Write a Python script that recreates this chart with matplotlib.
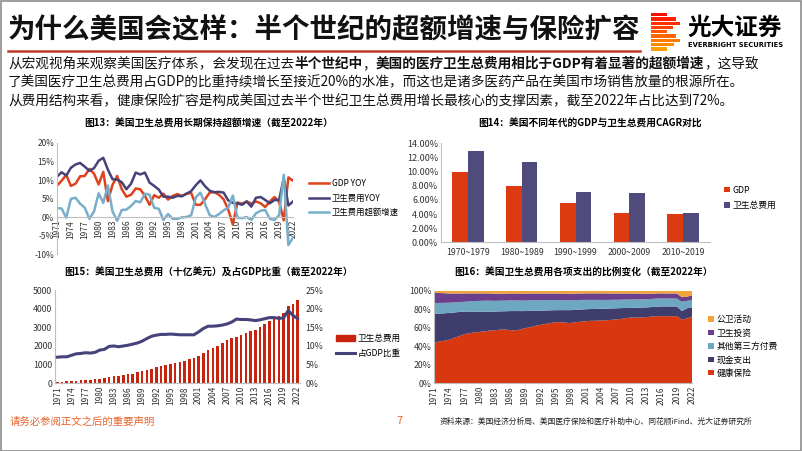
import numpy as np
import matplotlib.pyplot as plt
from matplotlib.lines import Line2D
from matplotlib.patches import Patch, Rectangle
from matplotlib.ticker import FuncFormatter

plt.rcParams['font.family'] = ['Noto Sans CJK SC', 'DejaVu Sans']
plt.rcParams['axes.unicode_minus'] = False

W, H = 802, 451

# ---- data ----
years = list(range(1971, 2023))

# 图13: YoY growth, %
gdp_yoy = [8.5, 9.8, 11.4, 8.4, 9.0, 11.0, 11.1, 13.0, 11.7, 8.8, 12.2, 4.3, 8.7, 11.1, 7.5, 5.5,
           6.0, 7.7, 7.5, 5.7, 3.3, 5.9, 5.2, 6.3, 4.7, 5.7, 6.2, 5.7, 6.3, 6.5, 3.3, 3.3, 4.8,
           6.6, 6.7, 6.0, 4.8, 2.0, -2.0, 3.9, 3.6, 4.2, 3.6, 4.2, 3.7, 2.7, 4.2, 5.4, 4.1, -0.9,
           10.7, 9.8]
he_yoy = [10.9, 12.1, 11.2, 13.3, 14.2, 14.6, 13.6, 12.5, 13.2, 15.2, 16.0, 12.8, 10.2, 10.1,
          9.4, 7.5, 9.0, 12.0, 11.5, 12.0, 9.3, 8.4, 7.4, 5.5, 5.5, 5.2, 5.7, 5.6, 6.3, 7.0, 8.6,
          9.9, 8.3, 7.1, 6.7, 6.8, 6.6, 4.5, 3.8, 3.7, 3.3, 4.2, 2.8, 5.2, 5.4, 4.6, 3.7, 4.6,
          4.6, 10.5, 3.1, 4.2]
excess_yoy = [2.4, 2.3, -0.2, 4.9, 5.2, 3.6, 2.5, -0.5, 1.5, 6.4, 3.8, 8.5, 1.5, -1.0, 1.9, 2.0,
              3.0, 4.3, 4.0, 6.3, 6.0, 2.5, 2.2, -0.8, 0.8, -0.5, -0.5, -0.1, 0.0, 0.5, 5.3, 6.6,
              3.5, 0.5, 0.0, 0.8, 1.8, 2.5, 5.8, -0.2, -0.3, 0.0, -0.8, 1.0, 1.7, 1.9, -0.5, -0.8,
              0.5, 11.4, -7.6, -5.6]

# 图14: CAGR by decade, %
decades = ['1970~1979', '1980~1989', '1990~1999', '2000~2009', '2010~2019']
cagr_gdp = [9.9, 7.9, 5.5, 4.15, 4.05]
cagr_he = [12.9, 11.3, 7.1, 6.95, 4.2]

# 图15: national health expenditure (bn USD) and share of GDP (%)
he_total = [83, 93, 103, 117, 133, 153, 174, 196, 222, 255, 296, 335, 369, 407, 445, 477, 519,
            581, 648, 721, 788, 854, 917, 967, 1022, 1074, 1136, 1199, 1282, 1369, 1487, 1629,
            1768, 1895, 2024, 2156, 2295, 2403, 2496, 2590, 2676, 2790, 2873, 3024, 3193, 3342,
            3450, 3617, 3790, 4144, 4255, 4464]
he_share = [7.0, 7.1, 7.1, 7.5, 7.9, 8.0, 8.2, 8.1, 8.3, 8.9, 9.1, 9.9, 10.0, 9.8, 10.0, 10.2,
            10.5, 10.8, 11.3, 12.0, 12.6, 12.9, 13.1, 13.1, 13.2, 13.1, 13.0, 13.0, 13.0, 13.0,
            13.8, 14.7, 15.3, 15.3, 15.4, 15.6, 15.9, 16.4, 17.2, 17.1, 17.1, 17.0, 16.8, 17.0,
            17.3, 17.6, 17.6, 17.4, 17.5, 19.5, 18.2, 17.3]

# 图16: spending structure, %
share_insurance = [44, 45, 46, 47, 49, 51, 53, 54, 55, 55.5, 56, 57, 57, 58, 58, 57.5, 57, 58,
                   59.5, 60.5, 62, 63, 64, 65, 66, 66, 65.5, 65, 66, 66.5, 67, 67.5, 67.5, 68,
                   68, 68.5, 69, 69.5, 70.5, 71, 71, 71, 71.5, 72, 72.5, 72.5, 72.5, 72.5, 72.5,
                   69, 70, 72]
share_oop = [31, 30.3, 29.6, 29, 27.5, 26, 24.5, 23.5, 22.3, 21.5, 21.2, 20.4, 20.5, 19.7, 19.8,
             20.5, 21, 20, 18.5, 17.7, 16.3, 15.5, 14.6, 13.8, 13, 13, 13.5, 14, 13.3, 13.1, 13,
             12.7, 12.8, 12.5, 12.6, 12.3, 12, 11.7, 10.8, 10.5, 10.6, 10.8, 10.5, 10.3, 10.2,
             10.5, 10.5, 10.5, 10.5, 9, 11, 10]
share_other = [11.5, 11.5, 11.3, 11, 10.8, 10.7, 10.5, 11, 11.5, 12, 12, 11.8, 11.5, 11.5, 11.5,
               11.5, 11.5, 11.4, 11.3, 11.3, 11.3, 11.2, 11.2, 11.1, 11, 11, 10.8, 10.7, 10.6,
               10.4, 10.1, 9.9, 9.8, 9.6, 9.4, 9.3, 9.2, 9.1, 9.1, 9, 9, 8.9, 8.8, 8.8, 8.8, 8.6,
               8.5, 8.5, 8.5, 10, 8, 8]
share_invest = [11, 10.7, 10.4, 10, 9.7, 9.3, 9, 8.6, 8.3, 8, 7.9, 7.8, 7.7, 7.6, 7.5, 7.5, 7.5,
                7.5, 7.5, 7.5, 7.4, 7.3, 7.2, 7.1, 7, 7, 7, 7, 7, 7, 7, 7, 7, 7, 7, 6.9, 6.8, 6.7,
                6.6, 6.5, 6.3, 6.1, 5.9, 5.7, 5.5, 5.5, 5.5, 5.5, 5.5, 5, 4.5, 5]
share_public = [2.5, 2.5, 2.7, 3, 3, 3, 3, 2.9, 2.9, 3, 2.9, 3, 3.3, 3.2, 3.2, 3, 3, 3.1, 3.2, 3,
                3, 3, 3, 3, 3, 3, 3.2, 3.3, 3.1, 3, 2.9, 2.9, 2.9, 2.9, 3, 3, 3, 3, 3, 3, 3.1,
                3.2, 3.3, 3.2, 3, 2.9, 3, 3, 3, 7, 6.5, 5]

RED = '#E0421C'
NAVY = '#46427A'
LBLUE = '#78AEC8'
GRAY = '#BFBFBF'
TXT = '#333333'

fig = plt.figure(figsize=(W / 100, H / 100), dpi=100)
fig.patch.set_facecolor('white')


def add_ax(l, t, r, b):
    return fig.add_axes([l / W, 1 - b / H, (r - l) / W, (b - t) / H])


def clean(ax):
    for s in ['top', 'right']:
        ax.spines[s].set_visible(False)
    for s in ['left', 'bottom']:
        ax.spines[s].set_color(GRAY)
        ax.spines[s].set_linewidth(0.8)
    ax.tick_params(length=0, labelsize=6, colors=TXT, pad=2)
    ax.set_facecolor('none')


pct = FuncFormatter(lambda v, p: '%d%%' % v)

# ---- header ----
fig.text(8 / W, 1 - 30 / H, '为什么美国会这样：半个世纪的超额增速与保险扩容',
         fontsize=19.8, fontweight='bold', va='center', color='#111111')
fig.add_artist(Line2D([8 / W, 640 / W], [1 - 51 / H, 1 - 51 / H], color='#C0392B', lw=1.8))
# logo stripes
for i, (x0, x1) in enumerate([(651, 667), (651, 676), (651, 680), (651, 673), (651, 667),
                              (651, 676), (651, 680), (651, 674), (651, 667)]):
    y = 13 + i * 4.3
    c = plt.cm.autumn(0.05 + i * 0.07)
    fig.add_artist(Rectangle((x0 / W, 1 - (y + 3.2) / H), (x1 - x0) / W, 3.2 / H,
                             color=c, lw=0))
fig.text(687 / W, 1 - 28 / H, '光大证券', fontsize=17, fontweight='bold', va='center')
fig.text(688 / W, 1 - 45 / H, 'EVERBRIGHT SECURITIES', fontsize=4.9, va='center',
         fontweight='bold', family=['DejaVu Sans'])

renderer = fig.canvas.get_renderer()


def seg_text(x, y, parts, size=9.85):
    x = x / W
    for s, bold in parts:
        t = fig.text(x, 1 - y / H, s, fontsize=size, va='center', color='#111111',
                     fontweight='bold' if bold else 'normal')
        x += t.get_window_extent(renderer=renderer).width / W


seg_text(8, 64, [('从宏观视角来观察美国医疗体系，会发现在过去', False), ('半个世纪中', True),
                 ('，', False), ('美国的医疗卫生总费用相比于GDP有着显著的超额增速', True),
                 ('，这导致', False)])
seg_text(8, 82, [('了美国医疗卫生总费用占GDP的比重持续增长至接近20%的水准，而这也是诸多医药产品在美国市场销售放量的根源所在。', False)])
seg_text(8, 101, [('从费用结构来看，健康保险扩容是构成美国过去半个世纪卫生总费用增长最核心的支撑因素，截至2022年占比达到72%。', False)])

# ---- 图13 ----
fig.text(209 / W, 1 - 124 / H, '图13：美国卫生总费用长期保持超额增速（截至2022年）',
         fontsize=7, fontweight='bold', ha='center', va='center')
ax1 = add_ax(57, 143, 293, 254)
ax1.plot(years, gdp_yoy, color=RED, lw=1.8, label='GDP YOY')
ax1.plot(years, he_yoy, color=NAVY, lw=1.8, label='卫生费用YOY')
ax1.plot(years, excess_yoy, color=LBLUE, lw=1.8, label='卫生费用超额增速')
ax1.set_xlim(1971, 2022)
ax1.set_ylim(-10, 20)
ax1.set_yticks(range(-10, 21, 5))
ax1.yaxis.set_major_formatter(pct)
ax1.set_xticks(years[::3])
clean(ax1)
ax1.spines['bottom'].set_position(('data', 0))
ax1.tick_params(axis='x', rotation=90)
ax1.legend(loc='center left', bbox_to_anchor=(305 / W, 1 - 198 / H),
           bbox_transform=fig.transFigure, frameon=False, fontsize=6, handlelength=2.4,
           handletextpad=0.3, labelspacing=0.65, borderpad=0)

# ---- 图14 ----
fig.text(590 / W, 1 - 124 / H, '图14：美国不同年代的GDP与卫生总费用CAGR对比',
         fontsize=7, fontweight='bold', ha='center', va='center')
ax2 = add_ax(441, 143.3, 710, 242.3)
x = np.arange(len(decades))
w = 0.29
ax2.bar(x - w / 2, cagr_gdp, w, color='#DC3B12', label='GDP')
ax2.bar(x + w / 2, cagr_he, w, color='#4F4B7D', label='卫生总费用')
ax2.set_xlim(-0.5, len(decades) - 0.5)
ax2.set_ylim(0, 14)
ax2.set_yticks(range(0, 15, 2))
ax2.yaxis.set_major_formatter(FuncFormatter(lambda v, p: '%.2f%%' % v))
ax2.set_xticks(x)
ax2.set_xticklabels(decades)
clean(ax2)
ax2.tick_params(axis='y', labelsize=6.5)
ax2.tick_params(axis='x', pad=4, labelsize=6.3)
ax2.legend(loc='center left', bbox_to_anchor=(720 / W, 1 - 198 / H),
           bbox_transform=fig.transFigure, frameon=False, fontsize=6.3, handlelength=0.6,
           handleheight=0.6, handletextpad=0.3, labelspacing=0.75, borderpad=0)

# ---- 图15 ----
fig.text(209 / W, 1 - 273 / H, '图15：美国卫生总费用（十亿美元）及占GDP比重（截至2022年）',
         fontsize=7, fontweight='bold', ha='center', va='center')
ax3 = add_ax(55, 290, 300, 383.3)
ax3.bar(years, he_total, 0.55, color='#C8230F')
ax3.set_xlim(1970.5, 2022.5)
ax3.set_ylim(0, 5000)
ax3.set_yticks(range(0, 5001, 1000))
ax3.set_xticks(years[::3])
clean(ax3)
ax3.tick_params(axis='x', rotation=90)
ax3.tick_params(axis='y', labelsize=6.3)
ax3b = ax3.twinx()
ax3b.plot(years, he_share, color=NAVY, lw=2.2)
ax3b.set_ylim(0, 25)
ax3b.set_yticks(range(0, 26, 5))
ax3b.yaxis.set_major_formatter(pct)
for s in ['top', 'right', 'left', 'bottom']:
    ax3b.spines[s].set_visible(False)
ax3b.tick_params(length=0, labelsize=6.3, colors=TXT, pad=4)
ax3b.legend([Patch(color='#C8230F'), Line2D([], [], color=NAVY, lw=2.2)],
            ['卫生总费用', '占GDP比重'], loc='center left',
            bbox_to_anchor=(332 / W, 1 - 346 / H), bbox_transform=fig.transFigure,
            frameon=False, fontsize=6.2, handlelength=2.2, handleheight=0.6,
            handletextpad=0.3, labelspacing=0.7, borderpad=0)

# ---- 图16 ----
fig.text(584 / W, 1 - 273 / H, '图16：美国卫生总费用各项支出的比例变化（截至2022年）',
         fontsize=7, fontweight='bold', ha='center', va='center')
ax4 = add_ax(434, 290.7, 692, 383.3)
stack = np.array([share_insurance, share_oop, share_other, share_invest, share_public], float)
stack = stack / stack.sum(axis=0) * 100
names16 = ['健康保险', '现金支出', '其他第三方付费', '卫生投资', '公卫活动']
colors16 = ['#D9370F', '#3F3D6B', '#6EA7C0', '#6C3F8C', '#F2A33A']
ax4.stackplot(years, stack, colors=colors16, labels=names16, lw=0)
ax4.set_xlim(1971, 2022)
ax4.set_ylim(0, 100)
ax4.set_yticks(range(0, 101, 20))
ax4.yaxis.set_major_formatter(pct)
ax4.set_xticks(years[::3])
clean(ax4)
ax4.tick_params(axis='x', rotation=90)
ax4.tick_params(axis='y', labelsize=6.3)
h, l = ax4.get_legend_handles_labels()
ax4.legend(h[::-1], l[::-1], loc='center left', bbox_to_anchor=(704 / W, 1 - 346.5 / H),
           bbox_transform=fig.transFigure, frameon=False, fontsize=6.3, handlelength=0.6,
           handleheight=0.6, handletextpad=0.3, labelspacing=0.5, borderpad=0)

# ---- footer ----
fig.text(10 / W, 1 - 422 / H, '请务必参阅正文之后的重要声明', fontsize=7.5, color='#E8652B',
         va='center')
fig.text(400 / W, 1 - 421 / H, '7', fontsize=8, color='#E8652B', va='center', ha='center')
fig.text(440 / W, 1 - 422 / H,
         '资料来源：美国经济分析局、美国医疗保险和医疗补助中心、同花顺iFind、光大证券研究所',
         fontsize=5.6, color='#222222', va='center')

fig.add_artist(Rectangle((0.5 / W, 0.5 / H), (W - 1.5) / W, (H - 1.5) / H, fill=False,
                         edgecolor='#8C8C8C', lw=1.2))

fig.savefig('out.png', dpi=100)
plt.close(fig)
